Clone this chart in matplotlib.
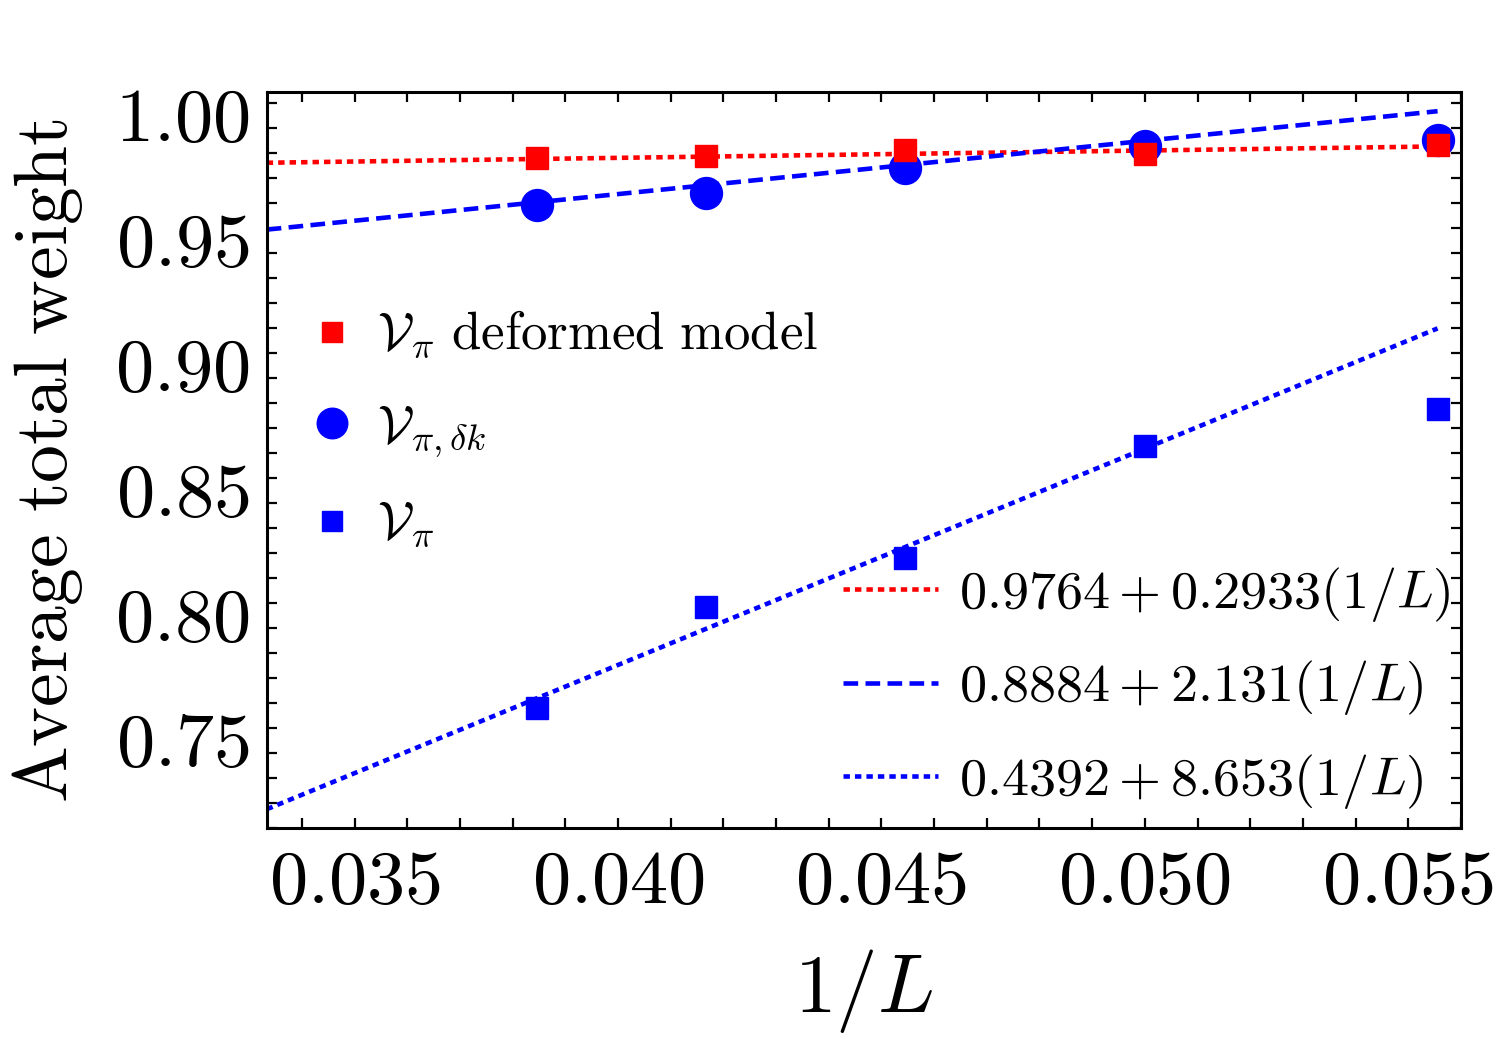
import numpy as np
import matplotlib
matplotlib.use("Agg")
import matplotlib.pyplot as plt
from matplotlib.lines import Line2D
from matplotlib.transforms import ScaledTranslation

plt.rcParams['mathtext.fontset'] = 'cm'
plt.rcParams['font.family'] = ['DejaVu Serif']

# ---- data ----
system_sizes = [26, 24, 22, 20, 18]
deformed_vpi = [0.9881, 0.9889, 0.9913, 0.9897, 0.9934]
vpi_dk = [0.9691, 0.9741, 0.9841, 0.9930, 0.9953]
vpi = [0.7680, 0.8087, 0.8281, 0.8729, 0.8877]
fit_intercepts = [0.9764, 0.8884, 0.4392]
fit_slopes = [0.2933, 2.131, 8.653]
fit_labels = [r'$0.9764+0.2933(1/L)$', r'$0.8884+2.131(1/L)$', r'$0.4392+8.653(1/L)$']
fit_range = [1/30, 1/18]
x_ticks = [0.035, 0.040, 0.045, 0.050, 0.055]
x_ticklabels = [r'$0.035$', r'$0.040$', r'$0.045$', r'$0.050$', r'$0.055$']
y_ticks = [0.75, 0.80, 0.85, 0.90, 0.95, 1.00]
y_ticklabels = [r'$0.75$', r'$0.80$', r'$0.85$', r'$0.90$', r'$0.95$', r'$1.00$']

x = [1.0 / L for L in system_sizes]

fig = plt.figure(figsize=(15, 10.61), dpi=100)
ax = fig.add_axes([0.1778, 0.2193, 0.974 - 0.1778, 0.9136 - 0.2193])

xf = np.array(fit_range)
red = (1, 0, 0)
blue = (0, 0, 1)
lw = 3.3
dotted = (0, (1.4, 1.1))
dashed = (0, (3.2, 1.6))
fit_styles = [(red, dotted), (blue, dashed), (blue, dotted)]
line_handles = []
for b0, b1, (c, ls), lab in zip(fit_intercepts, fit_slopes, fit_styles, fit_labels):
    h, = ax.plot(xf, b0 + b1 * xf, color=c, linestyle=ls, lw=lw, label=lab, zorder=2)
    line_handles.append(h)

ax.plot(x, vpi_dk, 'o', color=blue, markersize=23, zorder=3, linestyle='none')
ax.plot(x, deformed_vpi, 's', color=red, markersize=15.5, zorder=4, linestyle='none')
ax.plot(x, vpi, 's', color=blue, markersize=15.5, zorder=4, linestyle='none')

ax.set_xlim(1/30, 0.0560)
ax.set_ylim(0.720, 1.0146)

ax.set_xticks(x_ticks)
ax.set_xticklabels(x_ticklabels)
ax.set_yticks(y_ticks)
ax.set_yticklabels(y_ticklabels)
ax.set_xticks(np.arange(0.034, 0.0561, 0.001), minor=True)
ax.set_yticks(np.arange(0.72, 1.015, 0.01), minor=True)
ax.tick_params(which='both', direction='in', top=True, right=True, length=7, width=1.6)
ax.tick_params(axis='x', which='major', labelsize=55, pad=12)
ax.tick_params(axis='y', which='major', labelsize=55, pad=12)
for s in ax.spines.values():
    s.set_linewidth(2.2)
shift = ScaledTranslation(0, 16 / 100, fig.dpi_scale_trans)
for lab in ax.get_yticklabels():
    lab.set_transform(lab.get_transform() + shift)

ax.set_xlabel(r'$1/L$', fontsize=60, labelpad=20)
ax.set_ylabel(r'$\mathrm{Average\ total\ weight}$', fontsize=54.5, labelpad=22)

marker_handles = [
    Line2D([], [], marker='s', color=red, linestyle='none', markersize=15),
    Line2D([], [], marker='o', color=blue, linestyle='none', markersize=22),
    Line2D([], [], marker='s', color=blue, linestyle='none', markersize=15),
]
marker_labels = [r'$\mathcal{V}_\pi\ \mathrm{deformed\ model}$',
                 r'$\mathcal{V}_{\pi,\delta k}$',
                 r'$\mathcal{V}_\pi$']
leg1 = ax.legend(marker_handles, marker_labels, loc='center left',
                 bbox_to_anchor=(0.0329, 0.5407), frameon=False, fontsize=38,
                 handletextpad=0.35, labelspacing=0.75, handlelength=1.0,
                 borderpad=0, borderaxespad=0)
ax.add_artist(leg1)
ax.legend(line_handles, fit_labels, loc='center left', bbox_to_anchor=(0.4825, 0.1905),
          frameon=False, fontsize=39, handlelength=1.75, handletextpad=0.4,
          labelspacing=0.63, borderpad=0, borderaxespad=0)

fig.savefig('out.png', dpi=100)
